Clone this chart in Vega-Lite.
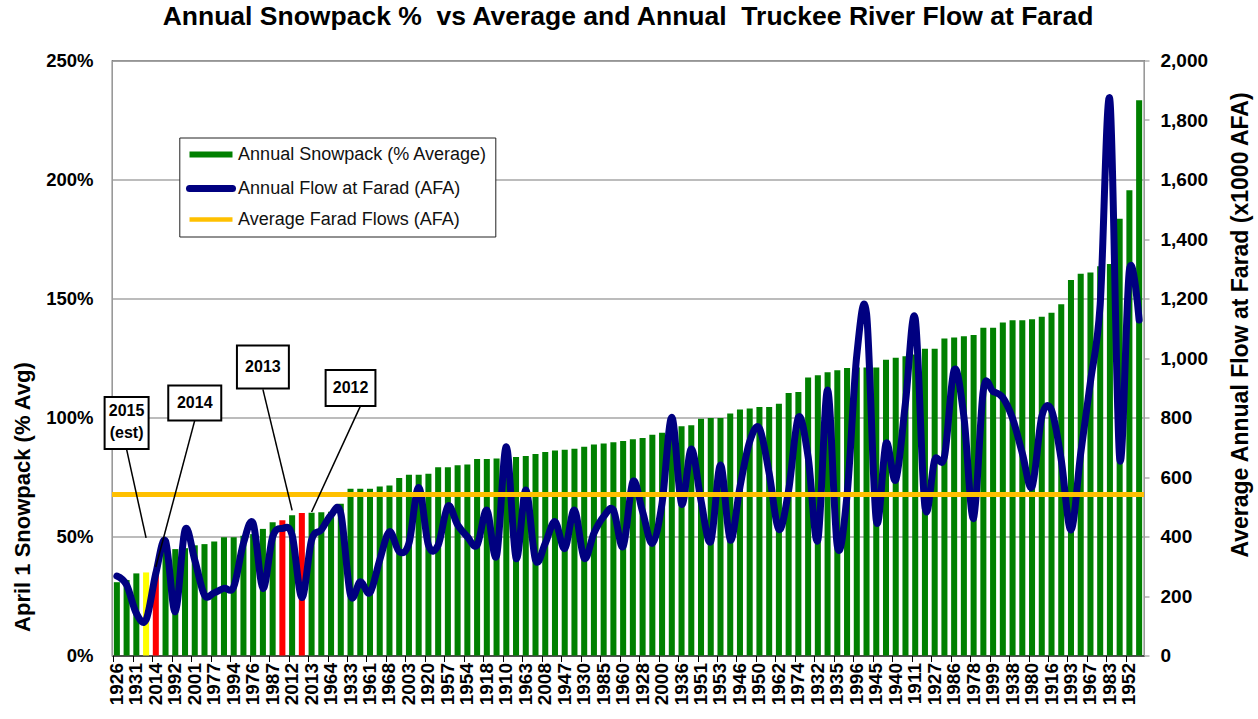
{
  "$schema": "https://vega.github.io/schema/vega-lite/v6.json",
  "width": 1032,
  "height": 595,
  "autosize": "none",
  "padding": {"left": 112, "top": 60.5, "right": 114, "bottom": 63.5},
  "background": "white",
  "title": {
    "text": "Annual Snowpack %\u00a0 vs Average and Annual\u00a0 Truckee River Flow at Farad",
    "fontSize": 26.5, "fontWeight": "bold", "font": "Liberation Sans", "color": "#000",
    "anchor": "middle", "frame": "group", "baseline": "alphabetic", "offset": 0.5
  },
  "datasets": {
    "main": [
      {"pos":1,"year":1926,"snow":30.8,"flow":267,"hl":"normal"},
      {"pos":2,"year":1924,"snow":31.7,"flow":237,"hl":"normal"},
      {"pos":3,"year":1931,"snow":34.5,"flow":142,"hl":"normal"},
      {"pos":4,"year":2015,"snow":34.9,"flow":120,"hl":"est"},
      {"pos":5,"year":2014,"snow":34.9,"flow":276,"hl":"low"},
      {"pos":6,"year":1990,"snow":44.0,"flow":385,"hl":"normal"},
      {"pos":7,"year":1992,"snow":44.7,"flow":147,"hl":"normal"},
      {"pos":8,"year":1988,"snow":45.1,"flow":422,"hl":"normal"},
      {"pos":9,"year":2001,"snow":46.3,"flow":321,"hl":"normal"},
      {"pos":10,"year":2007,"snow":46.8,"flow":203,"hl":"normal"},
      {"pos":11,"year":1977,"snow":47.9,"flow":211,"hl":"normal"},
      {"pos":12,"year":1929,"snow":49.7,"flow":226,"hl":"normal"},
      {"pos":13,"year":1994,"snow":49.7,"flow":231,"hl":"normal"},
      {"pos":14,"year":1939,"snow":50.3,"flow":377,"hl":"normal"},
      {"pos":15,"year":1976,"snow":51.0,"flow":444,"hl":"normal"},
      {"pos":16,"year":1991,"snow":53.2,"flow":226,"hl":"normal"},
      {"pos":17,"year":1987,"snow":56.0,"flow":399,"hl":"normal"},
      {"pos":18,"year":1934,"snow":56.8,"flow":427,"hl":"low"},
      {"pos":19,"year":2012,"snow":58.9,"flow":405,"hl":"normal"},
      {"pos":20,"year":2002,"snow":59.9,"flow":195,"hl":"low"},
      {"pos":21,"year":2013,"snow":60.0,"flow":388,"hl":"normal"},
      {"pos":22,"year":1959,"snow":60.2,"flow":422,"hl":"normal"},
      {"pos":23,"year":1964,"snow":60.4,"flow":472,"hl":"normal"},
      {"pos":24,"year":2009,"snow":63.8,"flow":478,"hl":"normal"},
      {"pos":25,"year":1933,"snow":70.1,"flow":203,"hl":"normal"},
      {"pos":26,"year":1966,"snow":70.1,"flow":248,"hl":"normal"},
      {"pos":27,"year":1961,"snow":70.1,"flow":211,"hl":"normal"},
      {"pos":28,"year":1955,"snow":71.0,"flow":321,"hl":"normal"},
      {"pos":29,"year":1968,"snow":71.4,"flow":416,"hl":"normal"},
      {"pos":30,"year":1949,"snow":74.6,"flow":349,"hl":"normal"},
      {"pos":31,"year":2003,"snow":75.9,"flow":377,"hl":"normal"},
      {"pos":32,"year":1944,"snow":75.9,"flow":565,"hl":"normal"},
      {"pos":33,"year":1920,"snow":76.4,"flow":371,"hl":"normal"},
      {"pos":34,"year":1948,"snow":79.1,"flow":371,"hl":"normal"},
      {"pos":35,"year":1957,"snow":79.1,"flow":502,"hl":"normal"},
      {"pos":36,"year":2004,"snow":79.9,"flow":439,"hl":"normal"},
      {"pos":37,"year":1954,"snow":80.3,"flow":399,"hl":"normal"},
      {"pos":38,"year":1972,"snow":82.6,"flow":371,"hl":"normal"},
      {"pos":39,"year":1918,"snow":82.6,"flow":489,"hl":"normal"},
      {"pos":40,"year":1925,"snow":82.8,"flow":335,"hl":"normal"},
      {"pos":41,"year":1910,"snow":83.0,"flow":702,"hl":"normal"},
      {"pos":42,"year":1913,"snow":83.4,"flow":327,"hl":"normal"},
      {"pos":43,"year":1963,"snow":83.8,"flow":556,"hl":"normal"},
      {"pos":44,"year":2005,"snow":84.7,"flow":321,"hl":"normal"},
      {"pos":45,"year":2008,"snow":85.5,"flow":377,"hl":"normal"},
      {"pos":46,"year":1981,"snow":86.1,"flow":450,"hl":"normal"},
      {"pos":47,"year":1947,"snow":86.5,"flow":360,"hl":"normal"},
      {"pos":48,"year":1937,"snow":86.9,"flow":489,"hl":"normal"},
      {"pos":49,"year":1930,"snow":87.7,"flow":327,"hl":"normal"},
      {"pos":50,"year":1923,"snow":88.7,"flow":411,"hl":"normal"},
      {"pos":51,"year":1985,"snow":89.1,"flow":467,"hl":"normal"},
      {"pos":52,"year":1989,"snow":89.6,"flow":489,"hl":"normal"},
      {"pos":53,"year":1960,"snow":90.1,"flow":366,"hl":"normal"},
      {"pos":54,"year":1914,"snow":90.9,"flow":584,"hl":"normal"},
      {"pos":55,"year":1928,"snow":91.4,"flow":483,"hl":"normal"},
      {"pos":56,"year":1921,"snow":92.8,"flow":377,"hl":"normal"},
      {"pos":57,"year":2000,"snow":93.6,"flow":512,"hl":"normal"},
      {"pos":58,"year":1943,"snow":95.0,"flow":801,"hl":"normal"},
      {"pos":59,"year":1936,"snow":96.3,"flow":509,"hl":"normal"},
      {"pos":60,"year":1979,"snow":96.7,"flow":694,"hl":"normal"},
      {"pos":61,"year":1951,"snow":99.5,"flow":520,"hl":"normal"},
      {"pos":62,"year":1919,"snow":99.8,"flow":383,"hl":"normal"},
      {"pos":63,"year":1953,"snow":99.8,"flow":640,"hl":"normal"},
      {"pos":64,"year":2010,"snow":101.7,"flow":388,"hl":"normal"},
      {"pos":65,"year":1946,"snow":103.4,"flow":567,"hl":"normal"},
      {"pos":66,"year":1958,"snow":103.8,"flow":719,"hl":"normal"},
      {"pos":67,"year":1950,"snow":104.4,"flow":764,"hl":"normal"},
      {"pos":68,"year":1922,"snow":104.4,"flow":612,"hl":"normal"},
      {"pos":69,"year":1962,"snow":105.8,"flow":424,"hl":"normal"},
      {"pos":70,"year":1970,"snow":110.3,"flow":556,"hl":"normal"},
      {"pos":71,"year":1974,"snow":110.7,"flow":801,"hl":"normal"},
      {"pos":72,"year":1912,"snow":116.8,"flow":668,"hl":"normal"},
      {"pos":73,"year":1932,"snow":117.7,"flow":388,"hl":"normal"},
      {"pos":74,"year":1973,"snow":119.0,"flow":892,"hl":"normal"},
      {"pos":75,"year":1935,"snow":119.9,"flow":368,"hl":"normal"},
      {"pos":76,"year":1915,"snow":120.8,"flow":540,"hl":"normal"},
      {"pos":77,"year":1996,"snow":121.0,"flow":1010,"hl":"normal"},
      {"pos":78,"year":1997,"snow":121.0,"flow":1150,"hl":"normal"},
      {"pos":79,"year":1945,"snow":121.0,"flow":455,"hl":"normal"},
      {"pos":80,"year":1984,"snow":124.3,"flow":713,"hl":"normal"},
      {"pos":81,"year":1940,"snow":125.1,"flow":590,"hl":"normal"},
      {"pos":82,"year":1965,"snow":125.7,"flow":850,"hl":"normal"},
      {"pos":83,"year":1911,"snow":126.5,"flow":1133,"hl":"normal"},
      {"pos":84,"year":1917,"snow":128.9,"flow":500,"hl":"normal"},
      {"pos":85,"year":1927,"snow":128.9,"flow":657,"hl":"normal"},
      {"pos":86,"year":1942,"snow":133.2,"flow":668,"hl":"normal"},
      {"pos":87,"year":1986,"snow":133.6,"flow":960,"hl":"normal"},
      {"pos":88,"year":1975,"snow":134.1,"flow":803,"hl":"normal"},
      {"pos":89,"year":1978,"snow":134.7,"flow":461,"hl":"normal"},
      {"pos":90,"year":2006,"snow":137.7,"flow":892,"hl":"normal"},
      {"pos":91,"year":1999,"snow":137.7,"flow":887,"hl":"normal"},
      {"pos":92,"year":1956,"snow":139.9,"flow":867,"hl":"normal"},
      {"pos":93,"year":1938,"snow":140.9,"flow":797,"hl":"normal"},
      {"pos":94,"year":1971,"snow":140.9,"flow":680,"hl":"normal"},
      {"pos":95,"year":1980,"snow":141.3,"flow":567,"hl":"normal"},
      {"pos":96,"year":1941,"snow":142.3,"flow":803,"hl":"normal"},
      {"pos":97,"year":1916,"snow":144.0,"flow":825,"hl":"normal"},
      {"pos":98,"year":2011,"snow":147.6,"flow":657,"hl":"normal"},
      {"pos":99,"year":1993,"snow":157.8,"flow":422,"hl":"normal"},
      {"pos":100,"year":1998,"snow":160.4,"flow":680,"hl":"normal"},
      {"pos":101,"year":1967,"snow":160.9,"flow":920,"hl":"normal"},
      {"pos":102,"year":1995,"snow":163.5,"flow":1180,"hl":"normal"},
      {"pos":103,"year":1983,"snow":164.5,"flow":1867,"hl":"normal"},
      {"pos":104,"year":1982,"snow":183.5,"flow":663,"hl":"normal"},
      {"pos":105,"year":1952,"snow":195.5,"flow":1296,"hl":"normal"},
      {"pos":106,"year":1969,"snow":233.3,"flow":1128,"hl":"normal"}
    ],
    "notes": [
      {"id":"a","pos":2,"year":1924,"label":"2015\n(est)","y":97.7},
      {"id":"b","pos":9,"year":2001,"label":"2014","y":106.1},
      {"id":"c","pos":16,"year":1991,"label":"2013","y":121.2},
      {"id":"d","pos":25,"year":1933,"label":"2012","y":112.4}
    ],
    "leaders": [
      {"id":"a","pos":2,"year":1924,"y":86.6},
      {"id":"a","pos":4,"year":2015,"y":49.4},
      {"id":"b","pos":9,"year":2001,"y":98.8},
      {"id":"b","pos":5,"year":2014,"y":37.2},
      {"id":"c","pos":16,"year":1991,"y":111.8},
      {"id":"c","pos":19,"year":2012,"y":61.0},
      {"id":"d","pos":26,"year":1966,"y":104.7},
      {"id":"d","pos":21,"year":2013,"y":60.3}
    ]
  },
  "layer": [
    {
      "data": {"name": "main"},
      "mark": {"type": "bar"},
      "encoding": {
        "x": {
          "field": "year", "type": "ordinal",
          "sort": {"field": "pos", "op": "min"},
          "scale": {"paddingInner": 0.38, "paddingOuter": 0.19},
          "axis": {
            "values": [1926,1931,2014,1992,2001,1977,1994,1976,1987,2012,2013,1964,1933,1961,1968,2003,1920,1957,1954,1918,1910,1963,2008,1947,1930,1985,1960,1928,2000,1936,1951,1953,1946,1950,1962,1974,1932,1935,1996,1945,1940,1911,1927,1986,1978,1999,1938,1980,1916,1993,1967,1983,1952],
            "title": null, "labelAngle": 270, "labelFontSize": 19, "labelFontWeight": "bold",
            "labelColor": "#000", "tickSize": 6, "tickColor": "#000", "domainColor": "#000",
            "labelPadding": 1, "labelOverlap": false, "grid": false, "bandPosition": 0
          }
        },
        "y": {
          "field": "snow", "type": "quantitative",
          "scale": {"domain": [0, 250]},
          "axis": {
            "values": [0, 50, 100, 150, 200, 250],
            "labelExpr": "datum.value + '%'",
            "grid": true, "gridColor": "#a6a6a6", "gridWidth": 1.3,
            "ticks": false, "labelPadding": 19, "labelFontSize": 18.5, "labelFontWeight": "bold",
            "labelColor": "#000", "domainColor": "#999",
            "title": "April 1 Snowpack (% Avg)", "titleFontSize": 22, "titleFontWeight": "bold",
            "titleColor": "#000", "titleAngle": 270, "titleX": -90, "titleY": 436,
            "titleAlign": "center", "titleBaseline": "middle"
          }
        },
        "color": {
          "field": "hl", "type": "nominal",
          "scale": {
            "domain": ["normal", "flow", "avg", "est", "low"],
            "range": ["#008000", "#000080", "#FFC000", "#FFFF00", "#FF0000"]
          },
          "legend": {
            "values": ["normal", "flow", "avg"],
            "labelExpr": "datum.value === 'normal' ? 'Annual Snowpack (% Average)' : datum.value === 'flow' ? 'Annual Flow at Farad (AFA)' : 'Average Farad Flows (AFA)'",
            "title": null, "orient": "none", "legendX": 67.3, "legendY": 77,
            "padding": 8, "rowPadding": 8, "symbolSize": 361, "symbolOffset": 14.7,
            "labelOffset": 18.1, "labelFontSize": 18, "labelColor": "#111", "labelLimit": 500,
            "strokeColor": "#222", "fillColor": "white",
            "encode": {
              "symbols": {
                "update": {
                  "shape": {"value": "M-2.263,0H2.263"},
                  "fill": {"value": "transparent"},
                  "stroke": {"scale": "color", "field": "value"},
                  "strokeWidth": {"signal": "datum.value === 'normal' ? 6 : datum.value === 'flow' ? 7 : 4.5"},
                  "strokeCap": {"signal": "datum.value === 'flow' ? 'round' : 'butt'"},
                  "opacity": {"value": 1}
                }
              }
            }
          }
        }
      }
    },
    {
      "data": {"name": "main"},
      "mark": {"type": "line", "interpolate": "cardinal", "tension": 0, "strokeWidth": 7, "strokeCap": "round", "strokeJoin": "round"},
      "encoding": {
        "x": {"field": "year", "type": "ordinal", "sort": {"field": "pos", "op": "min"}},
        "y": {
          "field": "flow", "type": "quantitative",
          "scale": {"domain": [0, 2000]},
          "axis": {
            "orient": "right",
            "values": [0,200,400,600,800,1000,1200,1400,1600,1800,2000],
            "format": ",.0f", "grid": false, "tickSize": 5, "tickColor": "#888",
            "labelPadding": 11, "labelFontSize": 19, "labelFontWeight": "bold", "labelColor": "#000",
            "domainColor": "#999",
            "title": "Average Annual Flow at Farad (x1000 AFA)", "titleFontSize": 23,
            "titleFontWeight": "bold", "titleColor": "#000", "titleAngle": 270,
            "titleX": 96, "titleY": 264, "titleAlign": "center", "titleBaseline": "middle"
          }
        },
        "color": {"datum": "flow"}
      }
    },
    {
      "data": {"name": "main"},
      "mark": {"type": "rule", "strokeWidth": 4.5},
      "encoding": {
        "y": {"datum": 542, "type": "quantitative", "scale": {"domain": [0, 2000]}, "axis": null},
        "color": {"datum": "avg"}
      }
    },
    {
      "data": {"name": "leaders"},
      "mark": {"type": "line", "color": "#000", "strokeWidth": 1.5},
      "encoding": {
        "x": {"field": "year", "type": "ordinal", "sort": {"field": "pos", "op": "min"}},
        "y": {"field": "y", "type": "quantitative", "scale": {"domain": [0, 250]}, "axis": null},
        "detail": {"field": "id"}
      }
    },
    {
      "data": {"name": "notes"},
      "mark": {"type": "point", "filled": true, "fill": "white", "stroke": "#000", "strokeWidth": 2, "opacity": 1, "size": 2809},
      "encoding": {
        "x": {"field": "year", "type": "ordinal", "sort": {"field": "pos", "op": "min"}},
        "y": {"field": "y", "type": "quantitative", "scale": {"domain": [0, 250]}, "axis": null},
        "shape": {
          "condition": [
            {"test": "datum.id === 'a'", "value": "M-0.83,-0.98H0.83V0.98H-0.83Z"},
            {"test": "datum.id === 'b'", "value": "M-1,-0.66H1V0.66H-1Z"},
            {"test": "datum.id === 'c'", "value": "M-0.98,-0.81H0.98V0.81H-0.98Z"}
          ],
          "value": "M-0.94,-0.68H0.94V0.68H-0.94Z"
        }
      }
    },
    {
      "data": {"name": "notes"},
      "transform": [{"filter": "datum.id !== 'a'"}],
      "mark": {"type": "text", "fontSize": 16, "fontWeight": "bold", "color": "#000", "baseline": "middle", "align": "center"},
      "encoding": {
        "x": {"field": "year", "type": "ordinal", "sort": {"field": "pos", "op": "min"}},
        "y": {"field": "y", "type": "quantitative", "scale": {"domain": [0, 250]}, "axis": null},
        "text": {"field": "label"}
      }
    },
    {
      "data": {"name": "notes"},
      "transform": [{"filter": "datum.id === 'a'"}],
      "mark": {"type": "text", "fontSize": 16, "fontWeight": "bold", "color": "#000", "lineBreak": "\n", "lineHeight": 22, "baseline": "middle", "align": "center", "dy": -12},
      "encoding": {
        "x": {"field": "year", "type": "ordinal", "sort": {"field": "pos", "op": "min"}},
        "y": {"field": "y", "type": "quantitative", "scale": {"domain": [0, 250]}, "axis": null},
        "text": {"field": "label"}
      }
    }
  ],
  "resolve": {"scale": {"y": "independent"}},
  "config": {
    "font": "Liberation Sans",
    "view": {"stroke": "#333", "strokeWidth": 1.2},
    "axis": {"labelFont": "Liberation Sans", "titleFont": "Liberation Sans"},
    "legend": {"labelFont": "Liberation Sans"}
  }
}
